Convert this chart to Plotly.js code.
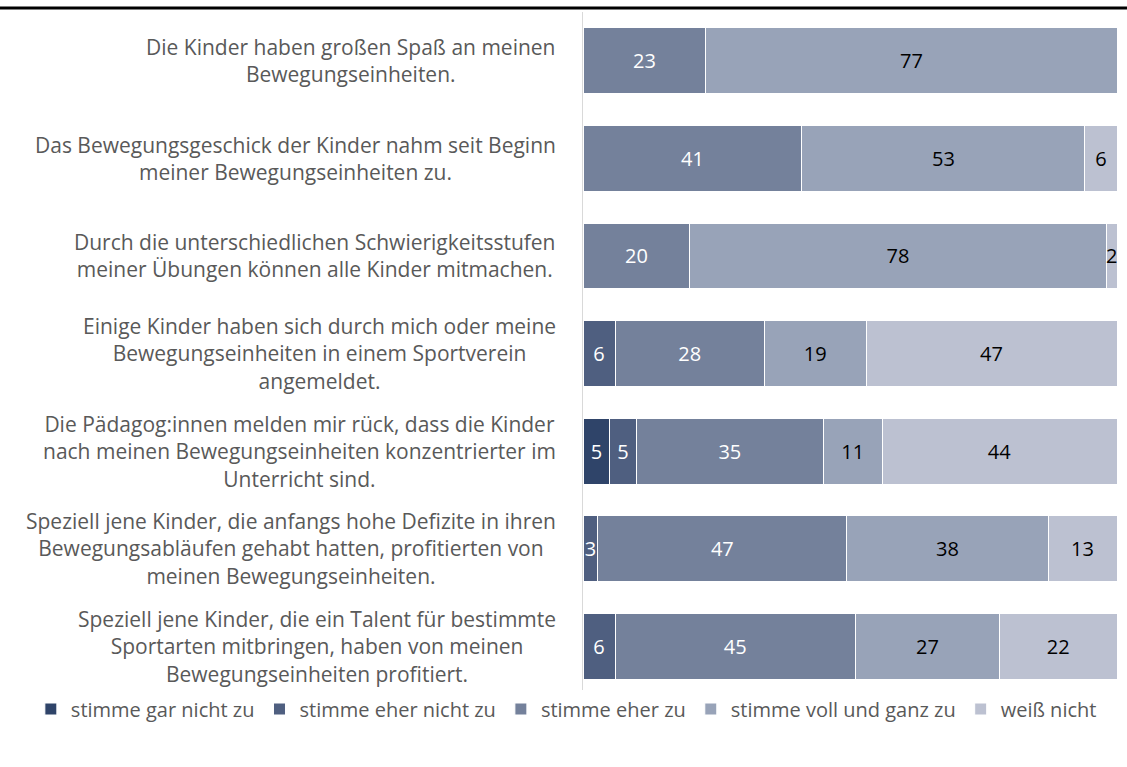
<!DOCTYPE html>
<html>
<head>
<meta charset="utf-8">
<script src="https://cdn.plot.ly/plotly-3.0.1.min.js"></script>
<style>html,body{margin:0;padding:0;background:#fff;}#chart{width:1127px;height:767px;}</style>
</head>
<body>
<div id="chart"></div>
<script>
const categories = [
  "Die Kinder haben großen Spaß an meinen<br>Bewegungseinheiten.",
  "Das Bewegungsgeschick der Kinder nahm seit Beginn<br>meiner Bewegungseinheiten zu.",
  "Durch die unterschiedlichen Schwierigkeitsstufen<br>meiner Übungen können alle Kinder mitmachen.",
  "Einige Kinder haben sich durch mich oder meine<br>Bewegungseinheiten in einem Sportverein<br>angemeldet.",
  "Die Pädagog:innen melden mir rück, dass die Kinder<br>nach meinen Bewegungseinheiten konzentrierter im<br>Unterricht sind.",
  "Speziell jene Kinder, die anfangs hohe Defizite in ihren<br>Bewegungsabläufen gehabt hatten, profitierten von<br>meinen Bewegungseinheiten.",
  "Speziell jene Kinder, die ein Talent für bestimmte<br>Sportarten mitbringen, haben von meinen<br>Bewegungseinheiten profitiert."
];
const seriesNames = ["stimme gar nicht zu", "stimme eher nicht zu", "stimme eher zu", "stimme voll und ganz zu", "weiß nicht"];
const garNicht   = [null, null, null, null, 5, null, null];
const eherNicht  = [null, null, null, 6, 5, 2.8, 6];
const eherZu     = [23, 41, 20, 28, 35, 46.6, 45];
const vollGanz   = [77, 53, 78, 19, 11, 37.7, 27];
const weissNicht = [null, 6, 2, 47, 44, 12.9, 22];

const seriesValues = [garNicht, eherNicht, eherZu, vollGanz, weissNicht];
const colors = ["#2f4469", "#4f5f80", "#74819b", "#98a3b8", "#bcc1d1"];
const textColors = ["#ffffff", "#ffffff", "#ffffff", "#000000", "#000000"];
const FONT = "Open Sans, Noto Sans, sans-serif";

const data = seriesValues.map((vals, i) => ({
  type: "bar",
  orientation: "h",
  name: seriesNames[i],
  y: categories,
  x: vals,
  marker: {color: colors[i], line: {color: "#ffffff", width: 1}},
  texttemplate: "%{x:.0f}",
  textposition: "inside",
  insidetextanchor: "middle",
  textfont: {family: FONT, size: 20, color: textColors[i]},
  cliponaxis: false,
  hoverinfo: "name+x"
}));

const annotations = categories.map(c => ({
  xref: "paper", yref: "y",
  x: -0.047, y: c,
  xanchor: "right", yanchor: "middle",
  align: "center",
  text: c,
  showarrow: false,
  font: {family: FONT, size: 21, color: "#595959"}
}));

const layout = {
  width: 1127, height: 767,
  margin: {l: 583, r: 10, t: 12, b: 72, pad: 0, autoexpand: false},
  barmode: "stack",
  bargap: 0.325,
  paper_bgcolor: "#ffffff",
  plot_bgcolor: "#ffffff",
  font: {family: FONT, color: "#595959"},
  uniformtext: {mode: "show", minsize: 20},
  xaxis: {range: [0, 100], visible: false, fixedrange: true},
  yaxis: {
    autorange: "reversed",
    showticklabels: false,
    showline: true, linecolor: "#d9d9d9", linewidth: 1,
    showgrid: false, zeroline: false, ticks: ""
  },
  showlegend: true,
  legend: {
    orientation: "h",
    xref: "paper", yref: "paper",
    x: -1.034, xanchor: "left",
    y: -0.0205, yanchor: "middle",
    font: {family: FONT, size: 20, color: "#595959"},
    itemwidth: 30,
    traceorder: "normal"
  },
  shapes: [{
    type: "line", xref: "paper", yref: "paper",
    x0: -1.0918, x1: 1.0187, y0: 1.0059, y1: 1.0059,
    line: {color: "#000000", width: 3}
  }],
  annotations: annotations
};

Plotly.newPlot("chart", data, layout, {displayModeBar: false, staticPlot: true});
</script>
</body>
</html>
